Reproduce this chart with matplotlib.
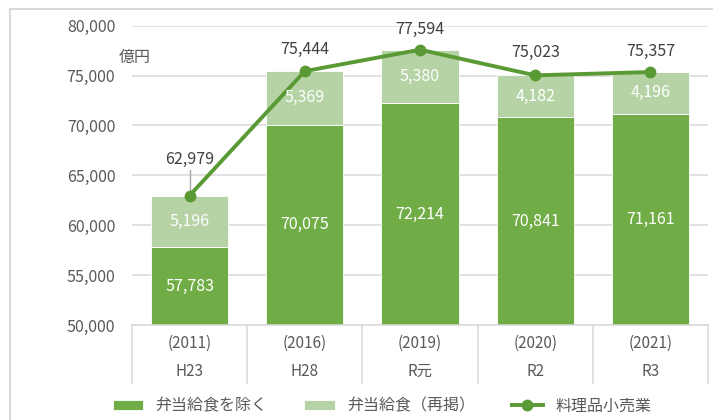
import matplotlib
matplotlib.use("Agg")
import matplotlib.pyplot as plt
from matplotlib.lines import Line2D
import numpy as np

plt.rcParams['font.family'] = ['Noto Sans CJK JP', 'DejaVu Sans']

years = ["(2011)", "(2016)", "(2019)", "(2020)", "(2021)"]
eras = ["H23", "H28", "R元", "R2", "R3"]
excl_bento = [57783, 70075, 72214, 70841, 71161]
bento = [5196, 5369, 5380, 4182, 4196]
total = [62979, 75444, 77594, 75023, 75357]
series_names = ["弁当給食を除く", "弁当給食（再掲）", "料理品小売業"]
yticks = [50000, 55000, 60000, 65000, 70000, 75000, 80000]

W, H = 713, 420
fig = plt.figure(figsize=(W / 100, H / 100), dpi=100)
fig.patch.set_facecolor("white")

x0, x1 = 132, 708
ytop, ybot = 25.7, 325
ax = fig.add_axes([x0 / W, 1 - ybot / H, (x1 - x0) / W, (ybot - ytop) / H])

dark = "#70ad47"
light = "#b5d3a5"
linec = "#5a9a35"
txtc = "#595959"

x = np.arange(len(years))
bw = 0.67
b1 = ax.bar(x, excl_bento, bw, color=dark, edgecolor="white", linewidth=0.6, zorder=2, label=series_names[0])
b2 = ax.bar(x, bento, bw, bottom=excl_bento, color=light, edgecolor="white", linewidth=0.6, zorder=2, label=series_names[1])
ln, = ax.plot(x, total, color=linec, lw=2.8, marker="o", ms=7.5, zorder=4, label=series_names[2])

ax.set_xlim(-0.5, len(years) - 0.5)
ax.set_ylim(50000, 80000)
ax.set_yticks(yticks)
ax.set_yticklabels([f"{v:,}" for v in yticks], color=txtc, fontsize=11.5)
ax.tick_params(axis="y", length=0, pad=12)
ax.set_xticks([])
ax.grid(axis="y", color="#d9d9d9", lw=1.1, zorder=0)
for s in ["top", "right", "left"]:
    ax.spines[s].set_visible(False)
ax.spines["bottom"].set_color("#d9d9d9")
ax.spines["bottom"].set_linewidth(1.1)
ax.set_axisbelow(True)

# segment labels
for i in range(len(years)):
    ax.text(x[i], (50000 + excl_bento[i]) / 2, f"{excl_bento[i]:,}", ha="center", va="center",
            color="white", fontsize=11.5, zorder=5)
    ax.text(x[i], excl_bento[i] + bento[i] / 2, f"{bento[i]:,}", ha="center", va="center",
            color="white", fontsize=11.5, zorder=5)

# total labels
offs_px = [36, 22, 20, 23, 21]
px_per_val = (ybot - ytop) / 30000
for i in range(len(years)):
    yv = total[i] + offs_px[i] / px_per_val
    ax.text(x[i], yv, f"{total[i]:,}", ha="center", va="center", color="#404040", fontsize=11.5, zorder=5)
ax.plot([x[0], x[0]], [total[0] + 6 / px_per_val, total[0] + 26 / px_per_val], color="#a6a6a6", lw=1, zorder=3)

# category table below axis
tr = ax.get_xaxis_transform()
depth = (383 - ybot) / (ybot - ytop)
for k in range(len(years) + 1):
    ax.plot([k - 0.5, k - 0.5], [0, -depth], transform=tr, color="#d9d9d9", lw=1.1, clip_on=False)
for i in range(len(years)):
    ax.text(x[i], -(343 - ybot) / (ybot - ytop), years[i], transform=tr, ha="center", va="center",
            color=txtc, fontsize=11)
    ax.text(x[i], -(371 - ybot) / (ybot - ytop), eras[i], transform=tr, ha="center", va="center",
            color=txtc, fontsize=11)

# unit label
fig.text(135 / W, 1 - 57 / H, "億円", ha="center", va="center", color=txtc, fontsize=11.5)

# legend
leg = fig.legend(handles=[b1, b2, ln], labels=series_names, loc="center", ncol=3,
                 bbox_to_anchor=(382 / W, 1 - 406 / H), frameon=False, fontsize=11.5,
                 labelcolor=txtc, handlelength=1.9, handleheight=0.6, columnspacing=2.3, handletextpad=0.8)

# outer border (top and left visible)
fig.add_artist(Line2D([9.5 / W, 1.01], [1 - 8.5 / H, 1 - 8.5 / H], transform=fig.transFigure, color="#d9d9d9", lw=1.5))
fig.add_artist(Line2D([9.5 / W, 9.5 / W], [1 - 8.5 / H, -0.01], transform=fig.transFigure, color="#d9d9d9", lw=1.5))

fig.savefig("out.png", dpi=100)
